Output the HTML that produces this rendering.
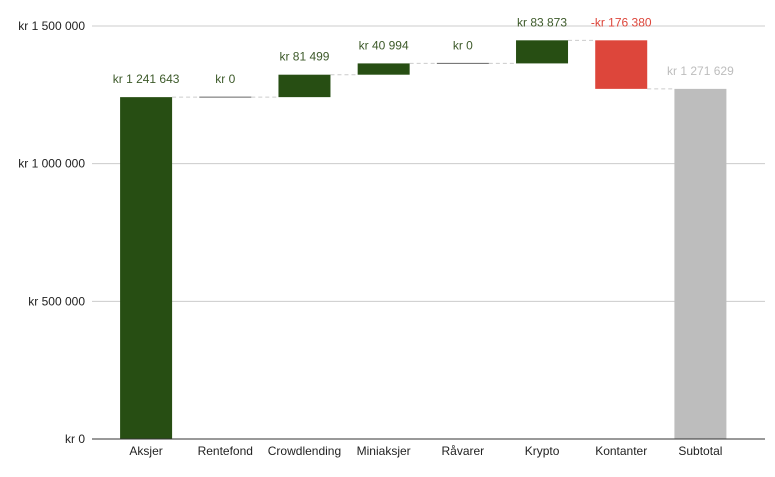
<!DOCTYPE html>
<html><head><meta charset="utf-8"><style>
html,body{margin:0;padding:0;background:#fff;}
svg{display:block;font-family:"Liberation Sans",Arial,sans-serif;}
</style></head><body>
<svg id="chart" width="775" height="477" viewBox="0 0 775 477">
<g id="grid"></g>
<g id="yaxis"></g>
<g id="conn"></g>
<g id="bars"></g>
<g id="labels"></g>
<g id="xaxis"></g>
</svg>
<script>
const categories = ["Aksjer","Rentefond","Crowdlending","Miniaksjer","Råvarer","Krypto","Kontanter","Subtotal"];
const values = [1241643,0,81499,40994,0,83873,-176380,1271629];
const valueLabels = ["kr 1 241 643","kr   0","kr  81 499","kr  40 994","kr   0","kr  83 873","-kr  176 380","kr 1 271 629"];
const isTotal = [false,false,false,false,false,false,false,true];
const yTicks = [0,500000,1000000,1500000];
const yTickLabels = ["kr   0","kr  500 000","kr 1 000 000","kr 1 500 000"];

const NS="http://www.w3.org/2000/svg";
const plotL=106.5, plotR=740, gridL=92, gridR=765, y0=439, yTop=26, yMax=1500000;
const bw=(plotR-plotL)/categories.length, barW=52;
function y(v){return y0-(v/yMax)*(y0-yTop);}
function xc(i){return plotL+bw*(i+0.5);}
function mk(tag,attrs,parent){const e=document.createElementNS(NS,tag);for(const k in attrs)e.setAttribute(k,attrs[k]);parent.appendChild(e);return e;}
const G=id=>document.getElementById(id);

yTicks.forEach((t,i)=>{
  const l=mk("line",{x1:gridL,x2:gridR,y1:y(t),y2:y(t),stroke:i===0?"#333":"#ccc","stroke-width":1},G(i===0?"xaxis":"grid"));
  
  
  const tx=mk("text",{x:85,y:y(t)+4,"text-anchor":"end","font-size":12,fill:"#222","xml:space":"preserve"},G("yaxis"));
  tx.textContent=yTickLabels[i];
  
  
});

let run=0;
categories.forEach((c,i)=>{
  let lo,hi,col,lc;
  if(isTotal[i]){lo=0;hi=values[i];col="#bdbdbd";lc="#bdbdbd";}
  else{const a=run,b=run+values[i];lo=Math.min(a,b);hi=Math.max(a,b);col=values[i]<0?"#dd463b":"#274e13";lc=values[i]<0?"#dd463b":"#3d5a2a";run=b;}
  const cx=xc(i);
  let r;
  if(hi===lo){
    r=mk("line",{x1:cx-barW/2,x2:cx+barW/2,y1:y(hi),y2:y(hi),stroke:"#666","stroke-width":1},G("bars"));
  } else {
    r=mk("rect",{x:cx-barW/2,y:y(hi),width:barW,height:y(lo)-y(hi),fill:col},G("bars"));
  }
  
  
  const t=mk("text",{x:cx,y:y(hi)-14,"text-anchor":"middle","font-size":12,fill:lc,"xml:space":"preserve"},G("labels"));
  t.textContent=valueLabels[i];
  
  
  const xl=mk("text",{x:cx,y:455,"text-anchor":"middle","font-size":12,fill:"#222"},G("xaxis"));
  xl.textContent=c;
  
  
  if(i<categories.length-1){
    const end=isTotal[i]?values[i]:run;
    const d=mk("line",{x1:cx+barW/2,x2:xc(i+1)-barW/2,y1:y(end),y2:y(end),stroke:"#ccc","stroke-width":1,"stroke-dasharray":"4,3"},G("conn"));
    
    
  }
});
</script>
</body></html>
